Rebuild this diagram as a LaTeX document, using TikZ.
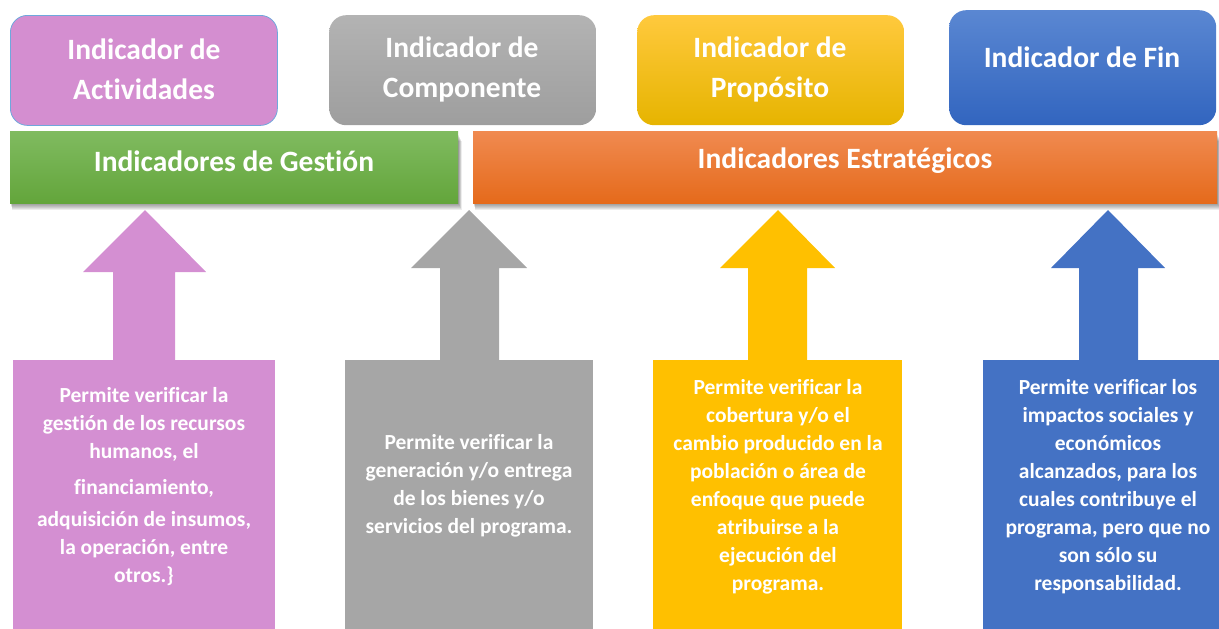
\documentclass[tikz,border=0pt]{standalone}
\usepackage{fontspec}
\setmainfont{Carlito}[Ligatures=NoCommon]
\definecolor{purpleA}{HTML}{D48ED0}
\definecolor{purpleL}{HTML}{D48FD2}
\definecolor{grayT}{HTML}{B3B3B3}
\definecolor{grayB}{HTML}{9E9E9E}
\definecolor{grayL}{HTML}{A6A6A6}
\definecolor{yelT}{HTML}{FFC93D}
\definecolor{yelB}{HTML}{E6B400}
\definecolor{yelL}{HTML}{FFC000}
\definecolor{bluT}{HTML}{5A87D2}
\definecolor{bluB}{HTML}{3265BF}
\definecolor{bluL}{HTML}{4472C4}
\definecolor{grnT}{HTML}{80BB60}
\definecolor{grnB}{HTML}{63A53B}
\definecolor{orgT}{HTML}{F08A50}
\definecolor{orgB}{HTML}{E56A1B}
\definecolor{edgeblue}{HTML}{6FA8DC}
\begin{document}
\begin{tikzpicture}[x=1pt,y=-1pt,
  topbox/.style={rounded corners=17pt, minimum width=267pt, minimum height=110pt, inner sep=0pt, anchor=north west},
  toptext/.style={text=white, font=\fontsize{29.5}{40}\selectfont\bfseries, align=center},
  barbox/.style={minimum height=72pt, inner sep=0pt, anchor=north west},
  softshadow/.style={fill=black, opacity=0.07},
  bartext/.style={text=white, font=\fontsize{29.5}{34}\selectfont\bfseries},
  lowbox/.style={minimum height=269pt, inner sep=0pt, anchor=north west},
  lowtext/.style={text=white, font=\fontsize{21.5}{28}\selectfont\bfseries, align=center}
]
\useasboundingbox (0,0) rectangle (1219,629);

% top boxes
\node[topbox, fill=purpleA, draw=edgeblue, line width=0.8pt] (act) at (10,15) {};
\node[topbox, top color=grayT, bottom color=grayB] (comp) at (329,15) {};
\node[topbox, top color=yelT, bottom color=yelB] (prop) at (637,15) {};
\node[topbox, minimum height=115pt, top color=bluT, bottom color=bluB] (fin) at (949,10) {};

\node[toptext] (actT) at (144,69) {Indicador de\\Actividades};
\node[toptext] (compT) at (462,69) {Indicador de\\Componente};
\node[toptext] (propT) at (770,69) {Indicador de\\Propósito};
\node[toptext] (finT) at (1082,57) {Indicador de Fin};

% soft shadows of the bars
\foreach \i in {1,...,7}{
  \fill[softshadow] (10+0.3*\i,134+\i) rectangle (458+0.5*\i,203+\i);
  \fill[softshadow] (473+0.3*\i,134+\i) rectangle (1217+0.5*\i,203+\i);
}

% bars
\node[barbox, minimum width=448pt, top color=grnT, bottom color=grnB] (gest) at (10,131) {};
\node[barbox, minimum width=744pt, top color=orgT, bottom color=orgB] (estr) at (473,131) {};
\node[bartext] (gestT) at (234,161) {Indicadores de Gestión};
\node[bartext] (estrT) at (845,161) {Indicadores Estratégicos};

% lower boxes
\node[lowbox, minimum width=262pt, fill=purpleL] (pA) at (13,360) {};
\node[lowbox, minimum width=248pt, fill=grayL] (pC) at (345,360) {};
\node[lowbox, minimum width=249pt, fill=yelL] (pP) at (653,360) {};
\node[lowbox, minimum width=236pt, fill=bluL] (pF) at (983,360) {};

% block arrows
\fill[purpleL] (145,210) -- (206,272) -- (175,272) -- (175,361) -- (113,361) -- (113,272) -- (83,272) -- cycle;
\fill[grayL] (469,210) -- (527,268) -- (499,268) -- (499,361) -- (440,361) -- (440,268) -- (411,268) -- cycle;
\fill[yelL] (778,210) -- (835,268) -- (807,268) -- (807,361) -- (748,361) -- (748,268) -- (720,268) -- cycle;
\fill[bluL] (1108,210) -- (1165,268) -- (1138,268) -- (1138,361) -- (1079,361) -- (1079,268) -- (1051,268) -- cycle;

% lower texts
\node[lowtext] (tA) at (144,487) {Permite verificar la\\gestión de los recursos\\humanos, el\\[8pt]financiamiento,\\[4pt]adquisición de insumos,\\la operación, entre\\otros.\}};
\node[lowtext] (tC) at (469,486) {Permite verificar la\\generación y/o entrega\\de los bienes y/o\\servicios del programa.};
\node[lowtext] (tP) at (778,487) {Permite verificar la\\cobertura y/o el\\cambio producido en la\\población o área de\\enfoque que puede\\atribuirse a la\\ejecución del\\programa.};
\node[lowtext] (tF) at (1108,487) {Permite verificar los\\impactos sociales y\\económicos\\alcanzados, para los\\cuales contribuye el\\programa, pero que no\\son sólo su\\responsabilidad.};
\end{tikzpicture}
\end{document}
